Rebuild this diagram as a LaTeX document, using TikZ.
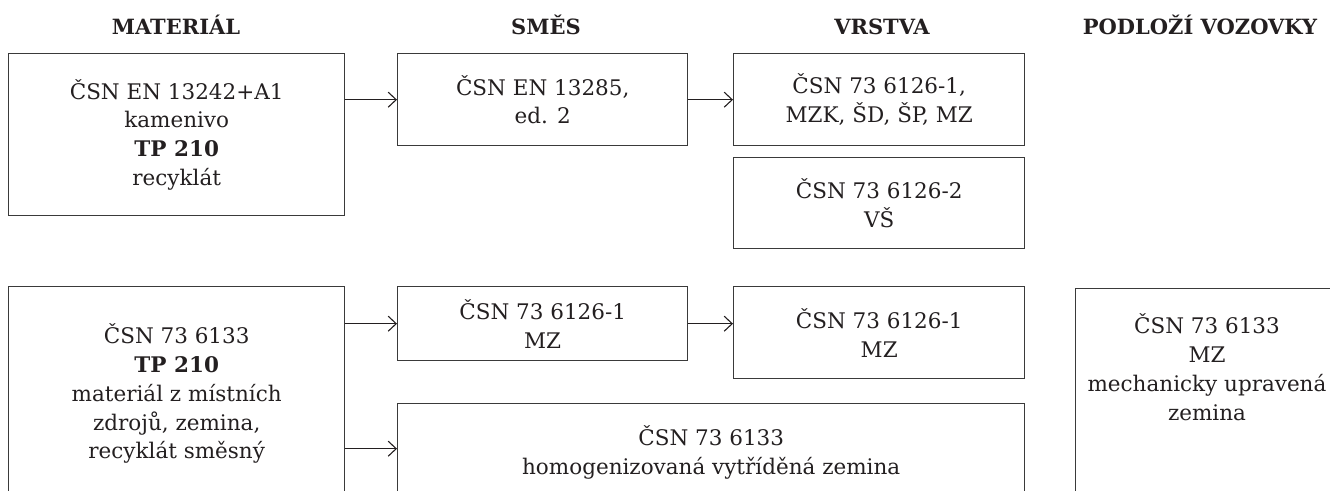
\documentclass[tikz,border=0pt]{standalone}
\usepackage{fontspec}
\setmainfont{DejaVu Serif}
\usetikzlibrary{arrows.meta,calc}
\definecolor{ink}{HTML}{231F20}
\definecolor{frame}{HTML}{3A3A3A}
\begin{document}
\begin{tikzpicture}[x=1pt,y=-1pt,
  box/.style={draw=frame,line width=1.4pt,rectangle,inner sep=0pt,anchor=north west,
    align=center,text=ink,font=\fontsize{21.5}{28.8}\selectfont},
  txt/.style={text=ink,align=center,inner sep=0pt,font=\fontsize{21.5}{28.8}\selectfont},
  head/.style={text=ink,inner sep=0pt,anchor=base,font=\fontsize{21}{24}\selectfont\bfseries},
  arr/.style={draw=ink,line width=1.1pt,-{Straight Barb[length=8pt,width=15pt,line width=1.1pt]}}]
\useasboundingbox (0,0) rectangle (1330,490);
\clip (0,0) rectangle (1330,490);
% headers
\node[head] (h1) at (176,34) {MATERIÁL};
\node[head] (h2) at (546,34) {SMĚS};
\node[head] (h3) at (882,34) {VRSTVA};
\node[head] (h4) at (1200,34) {PODLOŽÍ VOZOVKY};
% upper row
\node[box,minimum width=336pt,minimum height=162pt] (a1) at (8,53)
  {ČSN EN 13242+A1\\kamenivo\\\textbf{TP 210}\\recyklát};
\node[box,minimum width=290pt,minimum height=92pt] (b1) at (397,53)
  {ČSN EN 13285,\\ed. 2};
\node[box,minimum width=291pt,minimum height=92pt] (c1) at (733,53)
  {ČSN 73 6126-1,\\MZK, ŠD, ŠP, MZ};
\node[box,minimum width=291pt,minimum height=91pt] (c2) at (733,157)
  {ČSN 73 6126-2\\VŠ};
% lower row
\node[box,minimum width=336pt,minimum height=214pt] (a2) at (8,286)
  {ČSN 73 6133\\\textbf{TP 210}\\materiál z místních\\zdrojů, zemina,\\recyklát směsný};
\node[box,minimum width=290pt,minimum height=74pt] (b2) at (397,286)
  {ČSN 73 6126-1\\MZ};
\node[box,minimum width=291pt,minimum height=92pt] (c3) at (733,286)
  {ČSN 73 6126-1\\MZ};
\node[box,minimum width=627pt,minimum height=98pt] (b3) at (397,403)
  {ČSN 73 6133\\homogenizovaná vytříděná zemina};
\node[box,minimum width=300pt,minimum height=260pt] (d) at (1075,288) {};
\node[txt] (dt) at (1207,367) {ČSN 73 6133\\MZ\\mechanicky upravená\\zemina};
% connectors
\draw[arr] (a1.east |- b1.west) -- (b1.west);
\draw[arr] (b1.east) -- (c1.west);
\draw[arr] (a2.east |- b2.west) -- (b2.west);
\draw[arr] (b2.east) -- (b2.east -| c3.west);
\draw[arr] ([yshift=4pt]b3.west -| a2.east) -- ([yshift=4pt]b3.west);
\end{tikzpicture}
\end{document}
